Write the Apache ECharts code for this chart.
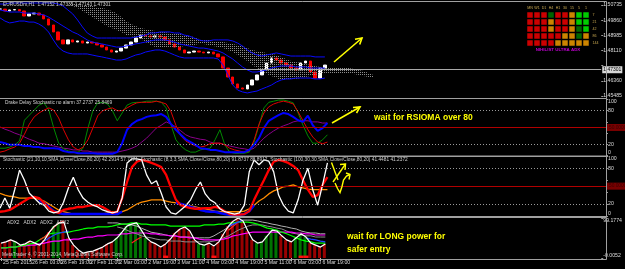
<!DOCTYPE html>
<html><head><meta charset="utf-8">
<script src="https://cdn.jsdelivr.net/npm/echarts@6/dist/echarts.min.js"></script>
<style>html,body{margin:0;padding:0;background:#000;}#c{width:625px;height:269px;}</style>
</head><body><div id="c"></div>
<script>
// ---------- DATA ----------
const tickLabels = ['25 Feb 2015','26 Feb 03:00','26 Feb 19:00','27 Feb 11:00','2 Mar 03:00','2 Mar 19:00','3 Mar 11:00','4 Mar 03:00','4 Mar 19:00','5 Mar 11:00','6 Mar 03:00','6 Mar 19:00'];
const priceTicks = [1.45485, 1.50735, 0.00875];
const lastPrice = 1.47301;

const price = [1.5050,1.5039,1.5045,1.5047,1.5039,1.5010,1.5022,1.5027,1.5016,1.4993,
1.4958,1.4918,1.4872,1.4849,1.4872,1.4860,1.4866,1.4854,1.4860,1.4854,
1.4843,1.4831,1.4814,1.4802,1.4808,1.4825,1.4843,1.4860,1.4883,1.4900,
1.4895,1.4889,1.4895,1.4889,1.4872,1.4849,1.4831,1.4814,1.4797,1.4802,
1.4808,1.4802,1.4797,1.4802,1.4791,1.4774,1.4710,1.4658,1.4618,1.4595,
1.4589,1.4612,1.4641,1.4670,1.4699,1.4739,1.4768,1.4756,1.4739,1.4727,
1.4710,1.4699,1.4739,1.4750,1.4687,1.4652,1.4710,1.4727];

const bbUpper = [1.5079,1.5079,1.5085,1.5085,1.5085,1.5085,1.5085,1.5085,1.5085,1.5085,
1.5085,1.5085,1.5079,1.5068,1.5045,1.5022,1.4987,1.4947,1.4912,1.4895,
1.4883,1.4883,1.4883,1.4883,1.4883,1.4883,1.4883,1.4883,1.4889,1.4895,
1.4900,1.4912,1.4912,1.4918,1.4918,1.4918,1.4912,1.4912,1.4900,1.4895,
1.4883,1.4872,1.4866,1.4866,1.4872,1.4872,1.4872,1.4872,1.4866,1.4854,
1.4837,1.4814,1.4797,1.4785,1.4779,1.4785,1.4791,1.4797,1.4791,1.4785,
1.4779,1.4779,1.4779,1.4779,1.4779,1.4774,1.4774,1.4774];
const bbMiddle = [1.5045,1.5039,1.5033,1.5033,1.5033,1.5027,1.5027,1.5027,1.5022,1.5016,
1.5004,1.4987,1.4970,1.4952,1.4935,1.4918,1.4906,1.4889,1.4872,1.4860,
1.4854,1.4849,1.4843,1.4837,1.4831,1.4831,1.4837,1.4843,1.4849,1.4854,
1.4860,1.4866,1.4872,1.4872,1.4872,1.4866,1.4860,1.4849,1.4843,1.4837,
1.4831,1.4825,1.4825,1.4820,1.4814,1.4808,1.4797,1.4779,1.4762,1.4739,
1.4716,1.4699,1.4687,1.4687,1.4693,1.4699,1.4710,1.4716,1.4722,1.4722,
1.4722,1.4716,1.4716,1.4716,1.4710,1.4710,1.4710,1.4710];
const bbLower = [1.4999,1.4981,1.4970,1.4975,1.4981,1.4981,1.4975,1.4975,1.4964,1.4947,
1.4918,1.4872,1.4831,1.4808,1.4797,1.4791,1.4791,1.4791,1.4791,1.4785,
1.4779,1.4774,1.4768,1.4762,1.4756,1.4756,1.4762,1.4774,1.4785,1.4791,
1.4802,1.4808,1.4814,1.4814,1.4808,1.4797,1.4785,1.4774,1.4768,1.4768,
1.4768,1.4768,1.4768,1.4768,1.4768,1.4762,1.4727,1.4670,1.4612,1.4583,
1.4572,1.4566,1.4572,1.4577,1.4589,1.4600,1.4612,1.4629,1.4641,1.4647,
1.4647,1.4652,1.4652,1.4652,1.4652,1.4647,1.4647,1.4652];

const cloudTop = [null,null,null,null,null,null,null,null,null,null,null,null,null,null,
1.5085,1.5085,1.5079,1.5074,1.5068,1.5068,1.5062,1.5056,1.5050,1.5039,
1.5027,1.5004,1.4981,1.4964,1.4952,1.4941,1.4935,1.4929,1.4924,1.4918,
1.4918,1.4912,1.4906,1.4906,1.4900,1.4895,1.4889,1.4877,1.4872,1.4872,
1.4866,1.4860,1.4860,1.4854,1.4849,1.4843,1.4837,1.4825,1.4814,1.4808,
1.4802,1.4797,1.4791,1.4785,1.4774,1.4762,1.4750,1.4745,1.4739,1.4733,
1.4727,1.4722,1.4716,1.4716,1.4716,1.4716,1.4716,1.4710,1.4710,1.4704,
1.4699,1.4693,1.4681,1.4670];
const cloudBottom = [null,null,null,null,null,null,null,null,null,null,null,null,null,null,
1.5079,1.5068,1.5056,1.5039,1.5022,1.5004,1.4987,1.4970,1.4952,1.4941,
1.4929,1.4918,1.4900,1.4895,1.4889,1.4877,1.4860,1.4843,1.4831,1.4831,
1.4825,1.4825,1.4825,1.4831,1.4837,1.4843,1.4843,1.4849,1.4849,1.4843,
1.4837,1.4831,1.4825,1.4814,1.4802,1.4785,1.4768,1.4750,1.4727,1.4710,
1.4693,1.4675,1.4664,1.4652,1.4641,1.4641,1.4647,1.4647,1.4652,1.4658,
1.4664,1.4670,1.4675,1.4675,1.4681,1.4681,1.4681,1.4681,1.4675,1.4675,
1.4670,1.4664,1.4658,1.4652];

// Drake Delay Stochastic panel
const drakeGreen = [13,13,15,19,26,63,72,81,90,94, 81,49,22,12,8,6,6,13,49,80, 94,95,92,80,62,76,90,94,95,95, 97,97,97,95,85,54,28,17,10,6, 6,10,12,13,28,46,19,6,4,4, 4,6,24,54,85,95,97,99,99,97, 94,76,54,35,22,22,28,37];
const drakeRed = [6,8,12,15,22,38,56,69,76,81, 85,81,67,46,28,15,10,15,28,49, 71,80,83,85,80,80,85,90,94,95, 95,95,97,95,92,78,54,35,26,21, 17,15,17,21,22,22,19,13,10,8, 6,8,28,56,76,87,92,95,97,95, 92,78,62,46,33,24,21,24];
const drakeBlue = [24,22,19,19,19,17,17,15,15,13, 13,13,12,8,6,6,4,4,4,4, 3,3,3,3,6,22,46,56,62,65, 69,71,72,74,69,56,46,37,29,24, 19,13,12,10,10,8,6,6,6,6, 6,10,19,31,49,62,67,72,76,74, 69,63,60,71,54,44,49,58];
const drakePurple = [51,47,44,40,37,33,29,26,22,21, 19,17,15,13,12,10,10,8,8,6, 6,6,6,6,6,8,10,13,17,24, 31,40,49,54,60,56,51,44,37,33, 31,29,28,24,22,22,19,17,15,13, 12,10,13,22,31,38,44,49,53,56, 60,62,62,62,60,60,58,58];

// Stochastic panel
const stochWhite = [13,30,13,44,77,60,38,30,22,18, 8,5,7,23,47,65,44,30,23,18, 15,10,7,5,7,30,89,96,96,94, 69,54,59,38,15,5,3,10,17,27, 44,57,37,27,22,12,7,5,3,5, 18,74,94,86,94,92,74,35,18,8, 5,27,60,80,44,18,52,89];
const stochK = [7,8,10,15,20,25,30,32,30,22, 13,7,5,10,12,13,15,15,17,18, 18,15,10,5,7,30,57,82,91,94, 92,89,86,82,69,47,27,18,15,13, 12,12,13,13,15,13,8,3,2,2, 3,8,27,44,60,77,91,94,92,89, 84,77,60,44,32,35,52,65];
const stochKState = ['R','R','R','R','G','G','G','G','G','B', 'B','B','B','R','R','R','R','R','R','R', 'R','R','R','R','G','G','G','G','R','R', 'R','R','R','R','G','G','G','B','B','R', 'R','R','R','R','R','R','R','B','B','B', 'B','B','G','G','G','G','R','R','R','R', 'R','G','G','G','G','G','G','G'];
const stochD = [null,null,null,null,null,null,null,null,27,22, 15,8,5,3,3,3,3,3,3,3, 3,3,3,3,3,7,null,null,null,null, null,null,null,null,null,null,22,20,18,15, 13,10,8,7,7,5,3,2,2,2, 3,8,18,null,null,null,null,null,null,null, null,null,null,null,null,null,null,null];
const stochOrange = [38,35,33,32,30,30,30,30,28,25, 20,15,10,7,5,3,3,3,3,3, 3,3,5,7,5,7,10,15,20,23, 25,27,27,27,25,23,22,20,18,17, 15,13,12,10,8,7,7,7,7,7, 8,12,18,25,30,37,42,45,49,50, 52,49,47,45,44,44,44,44];

// ADX panel
const adxMax = 99.1774, adxMinLabel = '-0.0052';
const adxHist = [37,40,45,40,32,35,42,37,32,45, 64,79,87,89,50,32,20,12,15,17, 22,27,35,40,50,64,79,84,87,69, 50,40,35,27,35,47,62,72,77,67, 45,35,32,37,30,40,60,79,92,99, 92,67,45,37,40,55,69,67,55,45, 40,50,60,52,37,32,27,35];
const adxHistState = ['R','R','R','G','R','R','R','R','R','R', 'R','G','G','R','R','R','R','R','R','R', 'R','R','R','R','G','G','G','G','G','G', 'G','R','R','R','R','R','R','R','R','R', 'R','G','G','R','R','R','R','R','R','R', 'R','R','R','G','G','G','G','G','R','R', 'R','G','G','G','R','R','R','R'];
const adxAlert = [null,null,null,null,null,null,null,null,null,null, null,null,null,null,null,null,null,null,null,null, null,null,null,null,null,null,null,null,null,null, null,null,null,null,6,null,null,null,null,null, null,null,null,null,6,null,null,null,null,null, null,null,null,null,null,null,null,null,null,null, null,null,6,6,null,null,null,null];
const adxGreen = [25,25,27,27,30,32,35,37,45,52, 60,62,62,64,64,67,69,72,74,74, 77,77,77,79,82,84,84,87,87,84, 84,82,82,82,82,79,79,79,79,79, 79,79,82,82,82,84,84,87,87,89, 89,89,87,84,79,74,72,69,64,60, 55,50,45,42,40,37,37,37];
const adxMagenta = [25,25,27,27,30,30,32,32,35,37, 40,42,42,45,45,47,47,50,52,52, 55,55,57,57,57,60,60,62,62,62, 62,60,60,57,57,55,55,52,52,50, 50,47,45,45,45,45,47,50,55,57, 60,62,64,64,64,64,64,64,64,64, 64,62,62,60,60,57,57,57];
const adxGray1 = [null,null,null,null,null,null,null,null,null,null, null,null,null,null,null,null,null,null,null,null, null,null,87,87,87,84,84,82,79,74, 69,64,62,60,57,55,55,52,52,52, 50,50,50,50,55,62,69,77,84,89, 94,94,94,92,89,87,84,82,79,77, 74,72,67,64,62,62,60,60];
const adxGray2 = [null,null,null,null,null,null,null,null,null,null, null,null,null,null,null,null,null,null,null,null, null,null,null,null,77,74,69,64,60,55, 52,50,47,45,45,42,42,42,40,40, 40,40,40,40,42,45,50,55,62,69, 74,79,82,82,82,79,77,74,72,67, 62,60,57,55,55,52,52,52];
const adxRed = [null,null,null,null,null,null,null,null,45,52, 64,77,87,92,null,null,null,null,null,null, null,null,null,null,null,null,null,37,45,52, null,null,null,null,null,null,null,null,null,null, null,null,null,null,null,null,null,69,79,89, null,null,null,null,null,null,null,null,null,null, null,null,null,null,null,null,null,null];
const adxBlue = [null,null,null,null,null,null,null,null,null,42, 50,57,62,64,67,null,null,null,null,null, null,null,null,null,null,null,null,null,null,null, null,null,null,null,null,null,null,null,null,null, null,null,null,null,null,null,null,79,84,89, 94,null,null,null,null,null,null,null,null,null, null,null,null,50,47,45,42,40];

// Nihilist matrix
const matrixCols = ['MN','W1','D1','H4','H1','30','15','5','1'];
const matrixRows = ['7','21','42','86','144'];
const matrixStates = [
  ['R','R','R','DG','R','R','O','G','G'],
  ['R','R','R','O','R','R','O','G','G'],
  ['R','R','R','O','R','R','O','DG','G'],
  ['R','R','R','R','R','O','O','DG','O'],
  ['R','R','R','R','O','O','O','O','O']
];

// ---------- BUILD ----------
const N_SLOTS = 125, LABEL_STEP = 6;
const categories = [];
for (let i = 0; i < N_SLOTS; i++) categories.push(String(i));
const labelAt = i => (i % LABEL_STEP === 0 && i / LABEL_STEP < tickLabels.length) ? tickLabels[i / LABEL_STEP] : '';

const candles = price.map((c, i) => { const o = i ? price[i - 1] : c; return [o, c, Math.min(o, c), Math.max(o, c)]; });
const cloudBase = cloudTop.map((t, i) => (t == null ? null : cloudBottom[i]));
const cloudSpan = cloudTop.map((t, i) => (t == null ? null : +(t - cloudBottom[i]).toFixed(5)));

const pc = document.createElement('canvas'); pc.width = 2; pc.height = 2;
const pctx = pc.getContext('2d'); pctx.fillStyle = '#8c8c8c'; pctx.fillRect(0, 0, 1, 1);

const kColor = { R: '#ff0000', G: '#009a00', B: '#0000ff' };
function statePieces(states, colorOf) {
  const pieces = []; let s = 0;
  for (let i = 1; i <= states.length; i++) {
    if (i === states.length || states[i] !== states[s]) { pieces.push({ gt: s - 1, lte: i - 1, color: colorOf[states[s]] }); s = i; }
  }
  return pieces;
}
const histColor = { R: '#990000', G: '#007400' };
const matColor = { R: '#ff0000', O: '#ffa500', G: '#00ff00', DG: '#008000' };
const matrixData = [];
matrixStates.forEach((row, r) => row.forEach((s, c) => matrixData.push({ value: [c, r], itemStyle: { color: matColor[s] } })));

const small = { fontSize: 5.2, color: '#dcdcdc', fontFamily: 'Liberation Sans' };
const gridFrame = { left: 0, right: 19 };

function timeAxis(gi, show) {
  return {
    type: 'category', gridIndex: gi, data: categories, boundaryGap: false,
    axisLine: { show: false },
    axisTick: { show: show, length: 3, interval: idx => labelAt(idx) !== '', lineStyle: { color: '#bbbbbb' } },
    axisLabel: { show: show, interval: idx => labelAt(idx) !== '', formatter: (v, idx) => labelAt(+v), align: 'left', margin: 2, padding: [0, 0, 0, 2], ...small },
    splitLine: { show: false }
  };
}
function levelLines(withRed) {
  const d = [
    { yAxis: 80, lineStyle: { color: '#9a9a9a', type: [1, 2], width: 1 }, label: { show: false } },
    { yAxis: 20, lineStyle: { color: '#9a9a9a', type: [1, 2], width: 1 }, label: { show: false } }
  ];
  if (withRed) d.push({ yAxis: 50, lineStyle: { color: '#b00000', type: 'solid', width: 1 },
    label: { show: true, position: 'end', formatter: '50.0000', color: '#3a0000', backgroundColor: '#780000', fontSize: 4.8, padding: [1, 2], distance: 1 } });
  return { silent: true, symbol: 'none', animation: false, data: d };
}
function ln(name, data, xi, color, width, extra) {
  return Object.assign({ name, type: 'line', xAxisIndex: xi, yAxisIndex: xi, data, symbol: 'none', showSymbol: false,
    lineStyle: { color, width }, itemStyle: { color }, connectNulls: false, clip: false, animation: false, silent: true }, extra || {});
}

const series = [
  // price panel
  ln('cloudBase', cloudBase, 0, 'rgba(0,0,0,0)', 0, { stack: 'cloud', lineStyle: { width: 0, opacity: 0 } }),
  ln('cloud', cloudSpan, 0, 'rgba(0,0,0,0)', 0, { stack: 'cloud', lineStyle: { width: 0, opacity: 0 }, areaStyle: { color: { image: pc, repeat: 'repeat' }, opacity: 1 } }),
  ln('bbUpper', bbUpper, 0, '#0a0aff', 1),
  ln('bbMiddle', bbMiddle, 0, '#0a0aff', 1),
  ln('bbLower', bbLower, 0, '#0a0aff', 1, {
    markLine: { silent: true, symbol: 'none', animation: false, data: [{ yAxis: lastPrice }],
      lineStyle: { color: '#a8a8a8', type: 'solid', width: 1 },
      label: { show: true, position: 'end', formatter: lastPrice.toFixed(5), color: '#000', backgroundColor: '#d8d8d8', fontSize: 5, padding: [1, 1], distance: 1, fontFamily: 'Liberation Sans' } }
  }),
  { name: 'price', type: 'candlestick', xAxisIndex: 0, yAxisIndex: 0, data: candles, barWidth: 3, animation: false, silent: true,
    itemStyle: { color: '#ffffff', color0: '#ff0000', borderColor: '#ffffff', borderColor0: '#ff0000', borderWidth: 1 } },
  // drake panel
  ln('drakePurple', drakePurple, 1, '#8a008a', 1, { markLine: levelLines(true) }),
  ln('drakeGreen', drakeGreen, 1, '#008a00', 1),
  ln('drakeRed', drakeRed, 1, '#e00000', 1),
  ln('drakeBlue', drakeBlue, 1, '#0000ff', 2),
  // stochastic panel
  ln('stochOrange', stochOrange, 2, '#ff8c00', 1.3, { markLine: levelLines(true) }),
  ln('stochD', stochD, 2, '#0000ff', 2.5),
  ln('stochK', stochK, 2, '#ff0000', 2.3),
  ln('stochWhite', stochWhite, 2, '#ffffff', 1.3),
  // adx panel
  { name: 'adxHist', type: 'bar', xAxisIndex: 3, yAxisIndex: 3, barWidth: 3, animation: false, silent: true,
    data: adxHist.map((v, i) => ({ value: v, itemStyle: { color: histColor[adxHistState[i]] } })) },
  { name: 'adxAlert', type: 'bar', xAxisIndex: 3, yAxisIndex: 3, barWidth: 5, barGap: '-100%', animation: false, silent: true,
    data: adxAlert, itemStyle: { color: '#ff1010' } },
  ln('adxGray2', adxGray2, 3, '#8c8c8c', 1),
  ln('adxGray1', adxGray1, 3, '#b0b0b0', 1),
  ln('adxMagenta', adxMagenta, 3, '#ff00ff', 1.2),
  ln('adxGreen', adxGreen, 3, '#00ff00', 1.2),
  ln('adxRed', adxRed, 3, '#ff2020', 1.2),
  ln('adxBlue', adxBlue, 3, '#2040ff', 1.2),
  ln('adxMain', adxHist, 3, '#ffffff', 1.2),
  // matrix
  { name: 'matrix', type: 'scatter', xAxisIndex: 4, yAxisIndex: 4, symbol: 'rect', symbolSize: 5.5, data: matrixData, animation: false, silent: true }
];
const kIndex = series.findIndex(s => s.name === 'stochK');

function valueAxis(gi, min, max, interval, formatter, extra) {
  return Object.assign({
    type: 'value', gridIndex: gi, position: 'right', min, max, interval, scale: true,
    axisLine: { show: false }, splitLine: { show: false },
    axisTick: { show: true, length: 2, lineStyle: { color: '#9a9a9a' } },
    axisLabel: Object.assign({ margin: 2, formatter, overflow: 'none' }, small)
  }, extra || {});
}
const lvlFmt = v => ([0, 20, 80, 100].includes(Math.round(v)) ? String(Math.round(v)) : '');

const Y = (x, y, text, font, fill) => ({ type: 'text', x, y, silent: true, z: 30, style: { text, font, fill, verticalAlign: 'middle' } });
const P = (pts, w) => ({ type: 'polyline', silent: true, z: 30, shape: { points: pts }, style: { stroke: '#ffff00', lineWidth: w || 1.6, fill: null } });
const frame = (y, h) => ({ type: 'rect', silent: true, z: 25, shape: { x: -2, y, width: 608.5, height: h }, style: { fill: null, stroke: '#a0a0a0', lineWidth: 1 } });
const tiny = '4.8px "Liberation Sans"';

const option = {
  backgroundColor: '#000000',
  animation: false,
  grid: [
    Object.assign({ top: 5, height: 91 }, gridFrame),
    Object.assign({ top: 99.5, height: 56 }, gridFrame),
    Object.assign({ top: 156.4, height: 59.5 }, gridFrame),
    Object.assign({ top: 218, height: 40 }, gridFrame),
    { left: 526.5, top: 11.5, width: 63, height: 35 }
  ],
  xAxis: [timeAxis(0, false), timeAxis(1, false), timeAxis(2, false), timeAxis(3, true),
    { type: 'category', gridIndex: 4, data: matrixCols, position: 'top', axisLine: { show: false }, axisTick: { show: false },
      axisLabel: { fontSize: 3.6, color: '#c8a850', margin: 2, interval: 0, fontFamily: 'Liberation Sans' } }],
  yAxis: [
    valueAxis(0, priceTicks[0], priceTicks[1], priceTicks[2], v => (Math.abs(v - 1.47235) < 1e-4 ? '' : v.toFixed(5))),
    valueAxis(1, 0, 100, 20, null, { axisLabel: Object.assign({ margin: 2, formatter: lvlFmt, verticalAlignMinLabel: 'bottom', verticalAlignMaxLabel: 'top' }, small) }),
    valueAxis(2, 0, 100, 20, null, { axisLabel: Object.assign({ margin: 2, formatter: lvlFmt, verticalAlignMinLabel: 'bottom', verticalAlignMaxLabel: 'top' }, small) }),
    valueAxis(3, 0, adxMax, adxMax, null, { axisLabel: Object.assign({ margin: 2, formatter: v => (v > 50 ? adxMax.toFixed(4) : adxMinLabel), verticalAlignMinLabel: 'bottom', verticalAlignMaxLabel: 'top' }, small) }),
    { type: 'category', gridIndex: 4, data: matrixRows, inverse: true, position: 'right', axisLine: { show: false }, axisTick: { show: false },
      axisLabel: { fontSize: 3.6, color: '#c8a850', margin: 3, interval: 0, fontFamily: 'Liberation Sans' } }
  ],
  visualMap: [{ type: 'piecewise', show: false, seriesIndex: kIndex, dimension: 0, pieces: statePieces(stochKState, kColor) }],
  series,
  graphic: [
    frame(1.5, 97), frame(98.5, 57.5), frame(156.5, 60), frame(217.5, 42),
    Y(3, 4.5, 'EURUSDm,H1  1.47152 1.47335 1.47143 1.47301', tiny, '#cfcfcf'),
    Y(5, 103, 'Drake Delay Stochastic no alarm 37.2737 25.8469', tiny, '#cfcfcf'),
    Y(3, 160, 'Stochastic (21,10,10,SMA,Close/Close,80,20) 42.2914 57.7271  Stochastic (8,3,3,SMA,Close/Close,80,20) 91.8737 88.8912  Stochastic (100,30,30,SMA,Close/Close,80,20) 41.4481 41.2372', tiny, '#cfcfcf'),
    Y(7, 222.5, 'ADX2   ADX2   ADX2   ADX2', tiny, '#cfcfcf'),
    Y(2, 255, 'MetaTrader 4, \u00a9 2001-2014, MetaQuotes Software Corp.', tiny, '#cfcfcf'),
    { type: 'text', x: 558, y: 50, silent: true, z: 30, style: { text: 'NIHILIST ULTRA ADX', font: 'bold 4.4px "Liberation Sans"', fill: '#c000d0', align: 'center', verticalAlign: 'middle' } },
    Y(374, 118, 'wait for RSIOMA over 80', 'bold 8.5px "Liberation Sans"', '#ffff00'),
    Y(347, 237, 'wait for LONG power for', 'bold 8.5px "Liberation Sans"', '#ffff00'),
    Y(347, 249.5, 'safer entry', 'bold 8.5px "Liberation Sans"', '#ffff00'),
    P([[334, 62], [362, 38]]), P([[355, 39.3], [362, 38], [359.7, 44.6]]),
    P([[332, 123], [360, 107]]), P([[353, 107.5], [360, 107], [356.5, 113]]),
    P([[331.5, 162.5], [338, 180]], 1.4), P([[333, 182], [345.5, 164]], 1.4), P([[340, 164.5], [345.5, 164], [345, 170]], 1.4),
    P([[335, 183], [337.5, 188.5], [340, 192.5], [342, 186.5], [343.5, 180], [346.5, 176], [350, 174.5]], 1.4),
    P([[346, 173], [350, 174.5], [349, 179.5]], 1.4)
  ]
};

const chart = echarts.init(document.getElementById('c'), null, { renderer: 'canvas', width: 625, height: 269 });
chart.setOption(option);
</script>
</body></html>
